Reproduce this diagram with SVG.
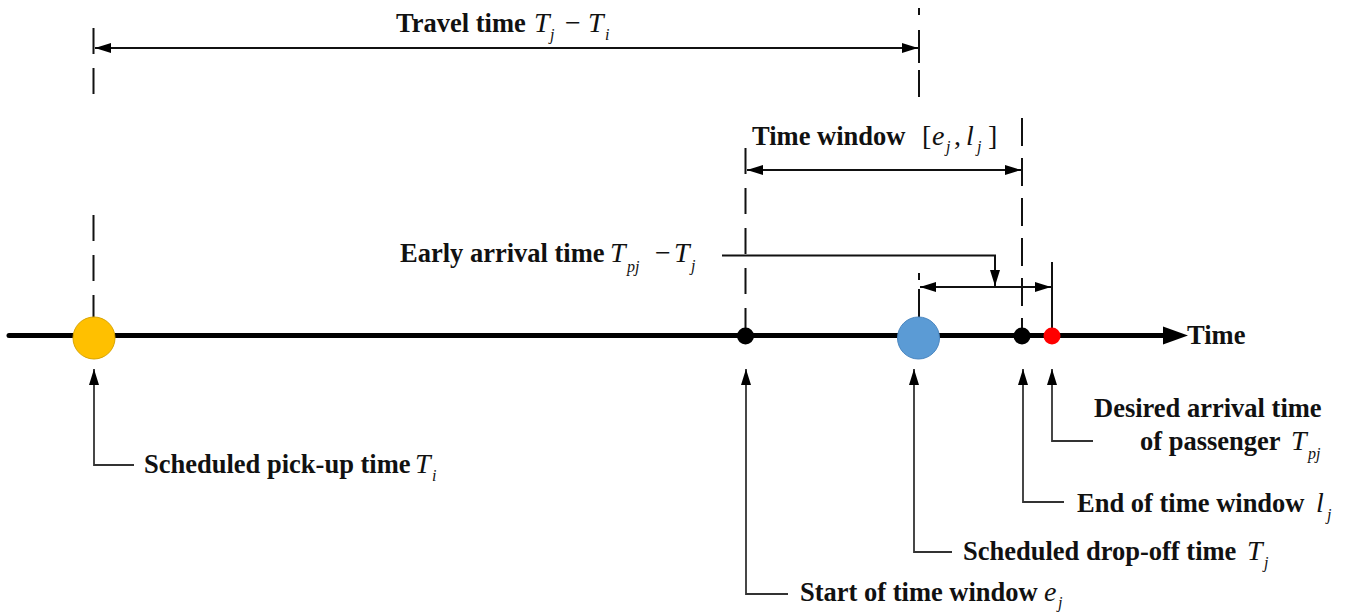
<svg xmlns="http://www.w3.org/2000/svg" width="1355" height="614" viewBox="0 0 1355 614">
<style>
.b{font-family:"Liberation Serif","Times New Roman",serif;font-weight:bold;font-size:26.5px;fill:#111}
.m{font-family:"Liberation Serif","Times New Roman",serif;font-style:italic;font-size:28px;fill:#111}
.u{font-family:"Liberation Serif","Times New Roman",serif;font-size:28px;fill:#111}
.s{font-family:"Liberation Serif","Times New Roman",serif;font-style:italic;font-size:16px;fill:#111}
.dash{stroke:#111;stroke-width:2;fill:none;stroke-dasharray:26 14}
.ln{stroke:#111;stroke-width:2;fill:none}
.lab{stroke:#333;stroke-width:1.8;fill:none}
</style>
<defs>
<marker id="ah" viewBox="0 0 16 10" refX="16" refY="5" markerWidth="16" markerHeight="10" markerUnits="userSpaceOnUse" orient="auto-start-reverse">
<path d="M0,0 L16,5 L0,10 z" fill="#000"/>
</marker>
</defs>

<g id="connectors">
<path class="dash" d="M93.5,28 V100"/>
<path class="dash" d="M93.5,215 V318"/>
<path class="ln" d="M919,8 V15 M919,30 V63 M919,70 V97"/>
<path class="ln" d="M919,273 V280 M919,289 V318"/>
<path class="dash" d="M745.5,148 V330"/>
<path class="dash" d="M1022,118 V328" style="stroke-dasharray:28 12"/>
<path class="ln" d="M1052,262 V329"/>
<path class="ln" d="M95,48 H918" marker-start="url(#ah)" marker-end="url(#ah)"/>
<path class="ln" d="M747,170 H1021" marker-start="url(#ah)" marker-end="url(#ah)"/>
<path class="ln" d="M920,287 H1051" marker-start="url(#ah)" marker-end="url(#ah)"/>
<path class="ln" d="M722,255.5 H995 V286" marker-end="url(#ah)"/>
<path class="lab" d="M134,465 H94 V369" marker-end="url(#ah)"/>
<path class="lab" d="M788,594 H746 V369" marker-end="url(#ah)"/>
<path class="lab" d="M952,552 H914 V369" marker-end="url(#ah)"/>
<path class="lab" d="M1064,502 H1023 V369" marker-end="url(#ah)"/>
<path class="lab" d="M1093,441 H1052 V369" marker-end="url(#ah)"/>
</g>

<g id="timeline">
<line x1="9" y1="335.5" x2="1168" y2="335.5" stroke="#000" stroke-width="5" stroke-linecap="round"/>
<polygon points="1163,326.5 1188,335.5 1163,344.5" fill="#000"/>
<text class="b" x="1187" y="344">Time</text>
</g>

<g id="pickup">
<circle cx="94" cy="338" r="21" fill="#FFC000" stroke="#D9A400" stroke-width="1"/>
</g>
<g id="start-window">
<circle cx="745.5" cy="336" r="8.5" fill="#000"/>
</g>
<g id="dropoff">
<circle cx="918.5" cy="338" r="21" fill="#5B9BD5" stroke="#4A86C0" stroke-width="1"/>
</g>
<g id="end-window">
<circle cx="1022" cy="336" r="8.5" fill="#000"/>
</g>
<g id="desired">
<circle cx="1052" cy="336" r="8.5" fill="#FF0000"/>
</g>

<g id="label-travel">
<text class="b" x="396" y="32">Travel time</text>
<text class="m" x="534" y="32">T</text><text class="s" x="550" y="40">j</text>
<text class="u" x="565" y="32">−</text>
<text class="m" x="588" y="32">T</text><text class="s" x="605" y="40">i</text>
</g>

<g id="label-window">
<text class="b" x="752" y="145">Time window</text>
<text class="u" x="922" y="145">[</text>
<text class="m" x="932" y="145">e</text><text class="s" x="946" y="152">j</text>
<text class="u" x="954" y="145">,</text>
<text class="m" x="966" y="145">l</text><text class="s" x="977" y="152">j</text>
<text class="u" x="988" y="145">]</text>
</g>

<g id="label-early">
<text class="b" x="400" y="262">Early arrival time</text>
<text class="m" x="610" y="262">T</text><text class="s" x="627" y="272">pj</text>
<text class="u" x="655" y="262">−</text>
<text class="m" x="674" y="262">T</text><text class="s" x="691" y="271">j</text>
</g>

<g id="label-pickup">
<text class="b" x="144" y="473">Scheduled pick-up time</text>
<text class="m" x="415" y="473">T</text><text class="s" x="432" y="481">i</text>
</g>

<g id="label-start">
<text class="b" x="800" y="601">Start of time window</text>
<text class="m" x="1044" y="601">e</text><text class="s" x="1058" y="608">j</text>
</g>

<g id="label-dropoff">
<text class="b" x="963" y="560">Scheduled drop-off time</text>
<text class="m" x="1247" y="560">T</text><text class="s" x="1264" y="568">j</text>
</g>

<g id="label-end">
<text class="b" x="1077" y="512">End of time window</text>
<text class="m" x="1316" y="512">l</text><text class="s" x="1327" y="520">j</text>
</g>

<g id="label-desired">
<text class="b" x="1094" y="417">Desired arrival time</text>
<text class="b" x="1140" y="450">of passenger</text>
<text class="m" x="1291" y="450">T</text><text class="s" x="1308" y="459">pj</text>
</g>
</svg>
